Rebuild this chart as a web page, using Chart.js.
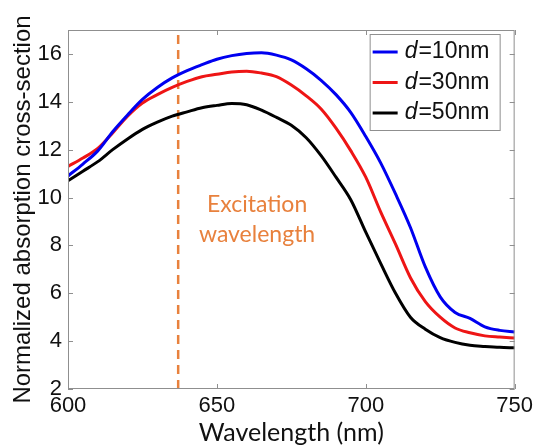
<!DOCTYPE html>
<html>
<head>
<meta charset="utf-8">
<script src="https://cdn.jsdelivr.net/npm/chart.js@4.4.0/dist/chart.umd.min.js"></script>
<style>
  html, body { margin: 0; padding: 0; background: #fff; }
  #wrap { width: 537px; height: 445px; }
</style>
</head>
<body>
<div id="wrap"><canvas id="absChart" width="537" height="445"></canvas></div>
<script>
// Wavelength grid (nm) shared by the three spectra
const wavelengths = [600, 605, 610, 615, 620, 625, 630, 635, 640, 645, 650,
  655, 660, 665, 670, 675, 680, 685, 690, 695, 700,
  705, 710, 715, 720, 725, 730, 735, 740, 745, 750];

// Normalized absorption cross-section for each shell thickness
const sigmaD10 = [10.9, 11.4, 11.95, 12.75, 13.45, 14.1, 14.6, 15.0, 15.3, 15.55, 15.78,
  15.93, 16.02, 16.05, 15.95, 15.75, 15.38, 14.9, 14.3, 13.55, 12.55,
  11.45, 10.15, 8.75, 7.1, 5.85, 5.2, 4.95, 4.6, 4.45, 4.38];
const sigmaD30 = [11.3, 11.65, 12.05, 12.7, 13.4, 13.95, 14.3, 14.6, 14.85, 15.05, 15.15,
  15.25, 15.28, 15.2, 15.05, 14.7, 14.25, 13.7, 12.9, 11.95, 10.85,
  9.4, 8.05, 6.65, 5.65, 5.0, 4.55, 4.35, 4.22, 4.17, 4.13];
const sigmaD50 = [10.7, 11.1, 11.5, 12.0, 12.45, 12.85, 13.15, 13.4, 13.58, 13.75, 13.85,
  13.93, 13.88, 13.65, 13.35, 13.02, 12.5, 11.75, 10.85, 9.9, 8.55,
  7.25, 6.0, 5.0, 4.5, 4.15, 3.95, 3.83, 3.78, 3.74, 3.72];

const seriesLabels = ['d=10nm', 'd=30nm', 'd=50nm'];
const seriesColors = ['#0000f0', '#ee1515', '#000000'];

const xTicks = [600, 650, 700, 750];
const yTicks = [2, 4, 6, 8, 10, 12, 14, 16];
const xRange = [600, 750];
const yRange = [2, 17];

// excitation laser line
const excitationNm = 637;
const excitationText = ['Excitation', 'wavelength'];
const orange = '#e8813d';

const spectra = [sigmaD10, sigmaD30, sigmaD50];

const datasets = spectra.map((vals, i) => ({
  label: seriesLabels[i],
  data: wavelengths.map((w, j) => ({ x: w, y: vals[j] })),
  borderColor: seriesColors[i],
  borderWidth: 3,
  pointRadius: 0,
  cubicInterpolationMode: 'monotone',
  fill: false
}));

datasets.push({
  label: 'excitation',
  data: [{ x: excitationNm, y: yRange[0] }, { x: excitationNm, y: yRange[1] }],
  borderColor: orange,
  borderWidth: 2.5,
  borderDash: [9, 6],
  pointRadius: 0,
  fill: false
});

// box, inward ticks, legend and the excitation label
const axesDecor = {
  id: 'axesDecor',
  afterDraw(chart) {
    const { ctx, chartArea: a, scales: { x, y } } = chart;
    ctx.save();

    ctx.strokeStyle = '#8f8f8f';
    ctx.lineWidth = 1;
    ctx.strokeRect(a.left + 0.5, a.top + 0.5, a.right - a.left - 1, a.bottom - a.top - 1);

    const tl = 5;
    ctx.beginPath();
    xTicks.forEach(v => {
      const px = Math.round(x.getPixelForValue(v)) + 0.5;
      ctx.moveTo(px, a.bottom); ctx.lineTo(px, a.bottom - tl);
      ctx.moveTo(px, a.top); ctx.lineTo(px, a.top + tl);
    });
    yTicks.forEach(v => {
      const py = Math.round(y.getPixelForValue(v)) + 0.5;
      ctx.moveTo(a.left, py); ctx.lineTo(a.left + tl, py);
      ctx.moveTo(a.right, py); ctx.lineTo(a.right - tl, py);
    });
    ctx.stroke();

    // excitation text
    ctx.fillStyle = orange;
    ctx.font = '23px Lato';
    ctx.textAlign = 'center';
    ctx.textBaseline = 'alphabetic';
    const tx = x.getPixelForValue(663.5);
    ctx.fillText(excitationText[0], tx, y.getPixelForValue(9.4));
    ctx.fillText(excitationText[1], tx, y.getPixelForValue(8.15));

    // legend
    const bx = a.right - 145, by = a.top + 4, bw = 130, bh = 96;
    ctx.fillStyle = '#fff';
    ctx.fillRect(bx, by, bw, bh);
    ctx.strokeStyle = '#8f8f8f';
    ctx.strokeRect(bx + 0.5, by + 0.5, bw, bh);
    ctx.textAlign = 'left';
    ctx.textBaseline = 'middle';
    seriesLabels.forEach((lab, i) => {
      const ry = by + 18 + i * 30.5;
      ctx.strokeStyle = seriesColors[i];
      ctx.lineWidth = 3;
      ctx.beginPath();
      ctx.moveTo(bx + 3, ry); ctx.lineTo(bx + 28, ry);
      ctx.stroke();
      ctx.fillStyle = '#111';
      ctx.font = 'italic 23px "Liberation Sans"';
      ctx.fillText(lab[0], bx + 35, ry);
      const w = ctx.measureText(lab[0]).width;
      ctx.font = '23px "Liberation Sans"';
      ctx.fillText(lab.slice(1), bx + 35 + w + 1, ry);
    });

    ctx.restore();
  }
};

const tickFont = { family: '"Liberation Sans", Arial, sans-serif', size: 22 };

new Chart(document.getElementById('absChart'), {
  type: 'line',
  data: { datasets },
  options: {
    responsive: false,
    animation: false,
    devicePixelRatio: 1,
    layout: { padding: { top: 30, right: 21, left: 0, bottom: 0 } },
    plugins: { legend: { display: false }, tooltip: { enabled: false } },
    scales: {
      x: {
        type: 'linear',
        min: xRange[0],
        max: xRange[1],
        afterBuildTicks: s => { s.ticks = xTicks.map(v => ({ value: v })); },
        afterFit: s => { s.height = 56; },
        grid: { display: false, drawTicks: false },
        border: { display: false },
        ticks: { font: tickFont, color: '#111', padding: 4, maxRotation: 0 },
        title: {
          display: true,
          text: 'Wavelength (nm)',
          color: '#111',
          font: { family: 'Lato', size: 25, lineHeight: 1 },
          padding: { top: 0, bottom: 0 }
        }
      },
      y: {
        min: yRange[0],
        max: yRange[1],
        afterBuildTicks: s => { s.ticks = yTicks.map(v => ({ value: v })); },
        afterFit: s => { s.width = 68; },
        grid: { display: false, drawTicks: false },
        border: { display: false },
        ticks: { font: tickFont, color: '#111', padding: 6 },
        title: {
          display: true,
          text: 'Normalized absorption cross-section',
          color: '#111',
          font: { family: '"Liberation Sans", Arial, sans-serif', size: 24, lineHeight: 1 },
          padding: { top: 11, bottom: 0 }
        }
      }
    }
  },
  plugins: [axesDecor]
});
</script>
</body>
</html>
